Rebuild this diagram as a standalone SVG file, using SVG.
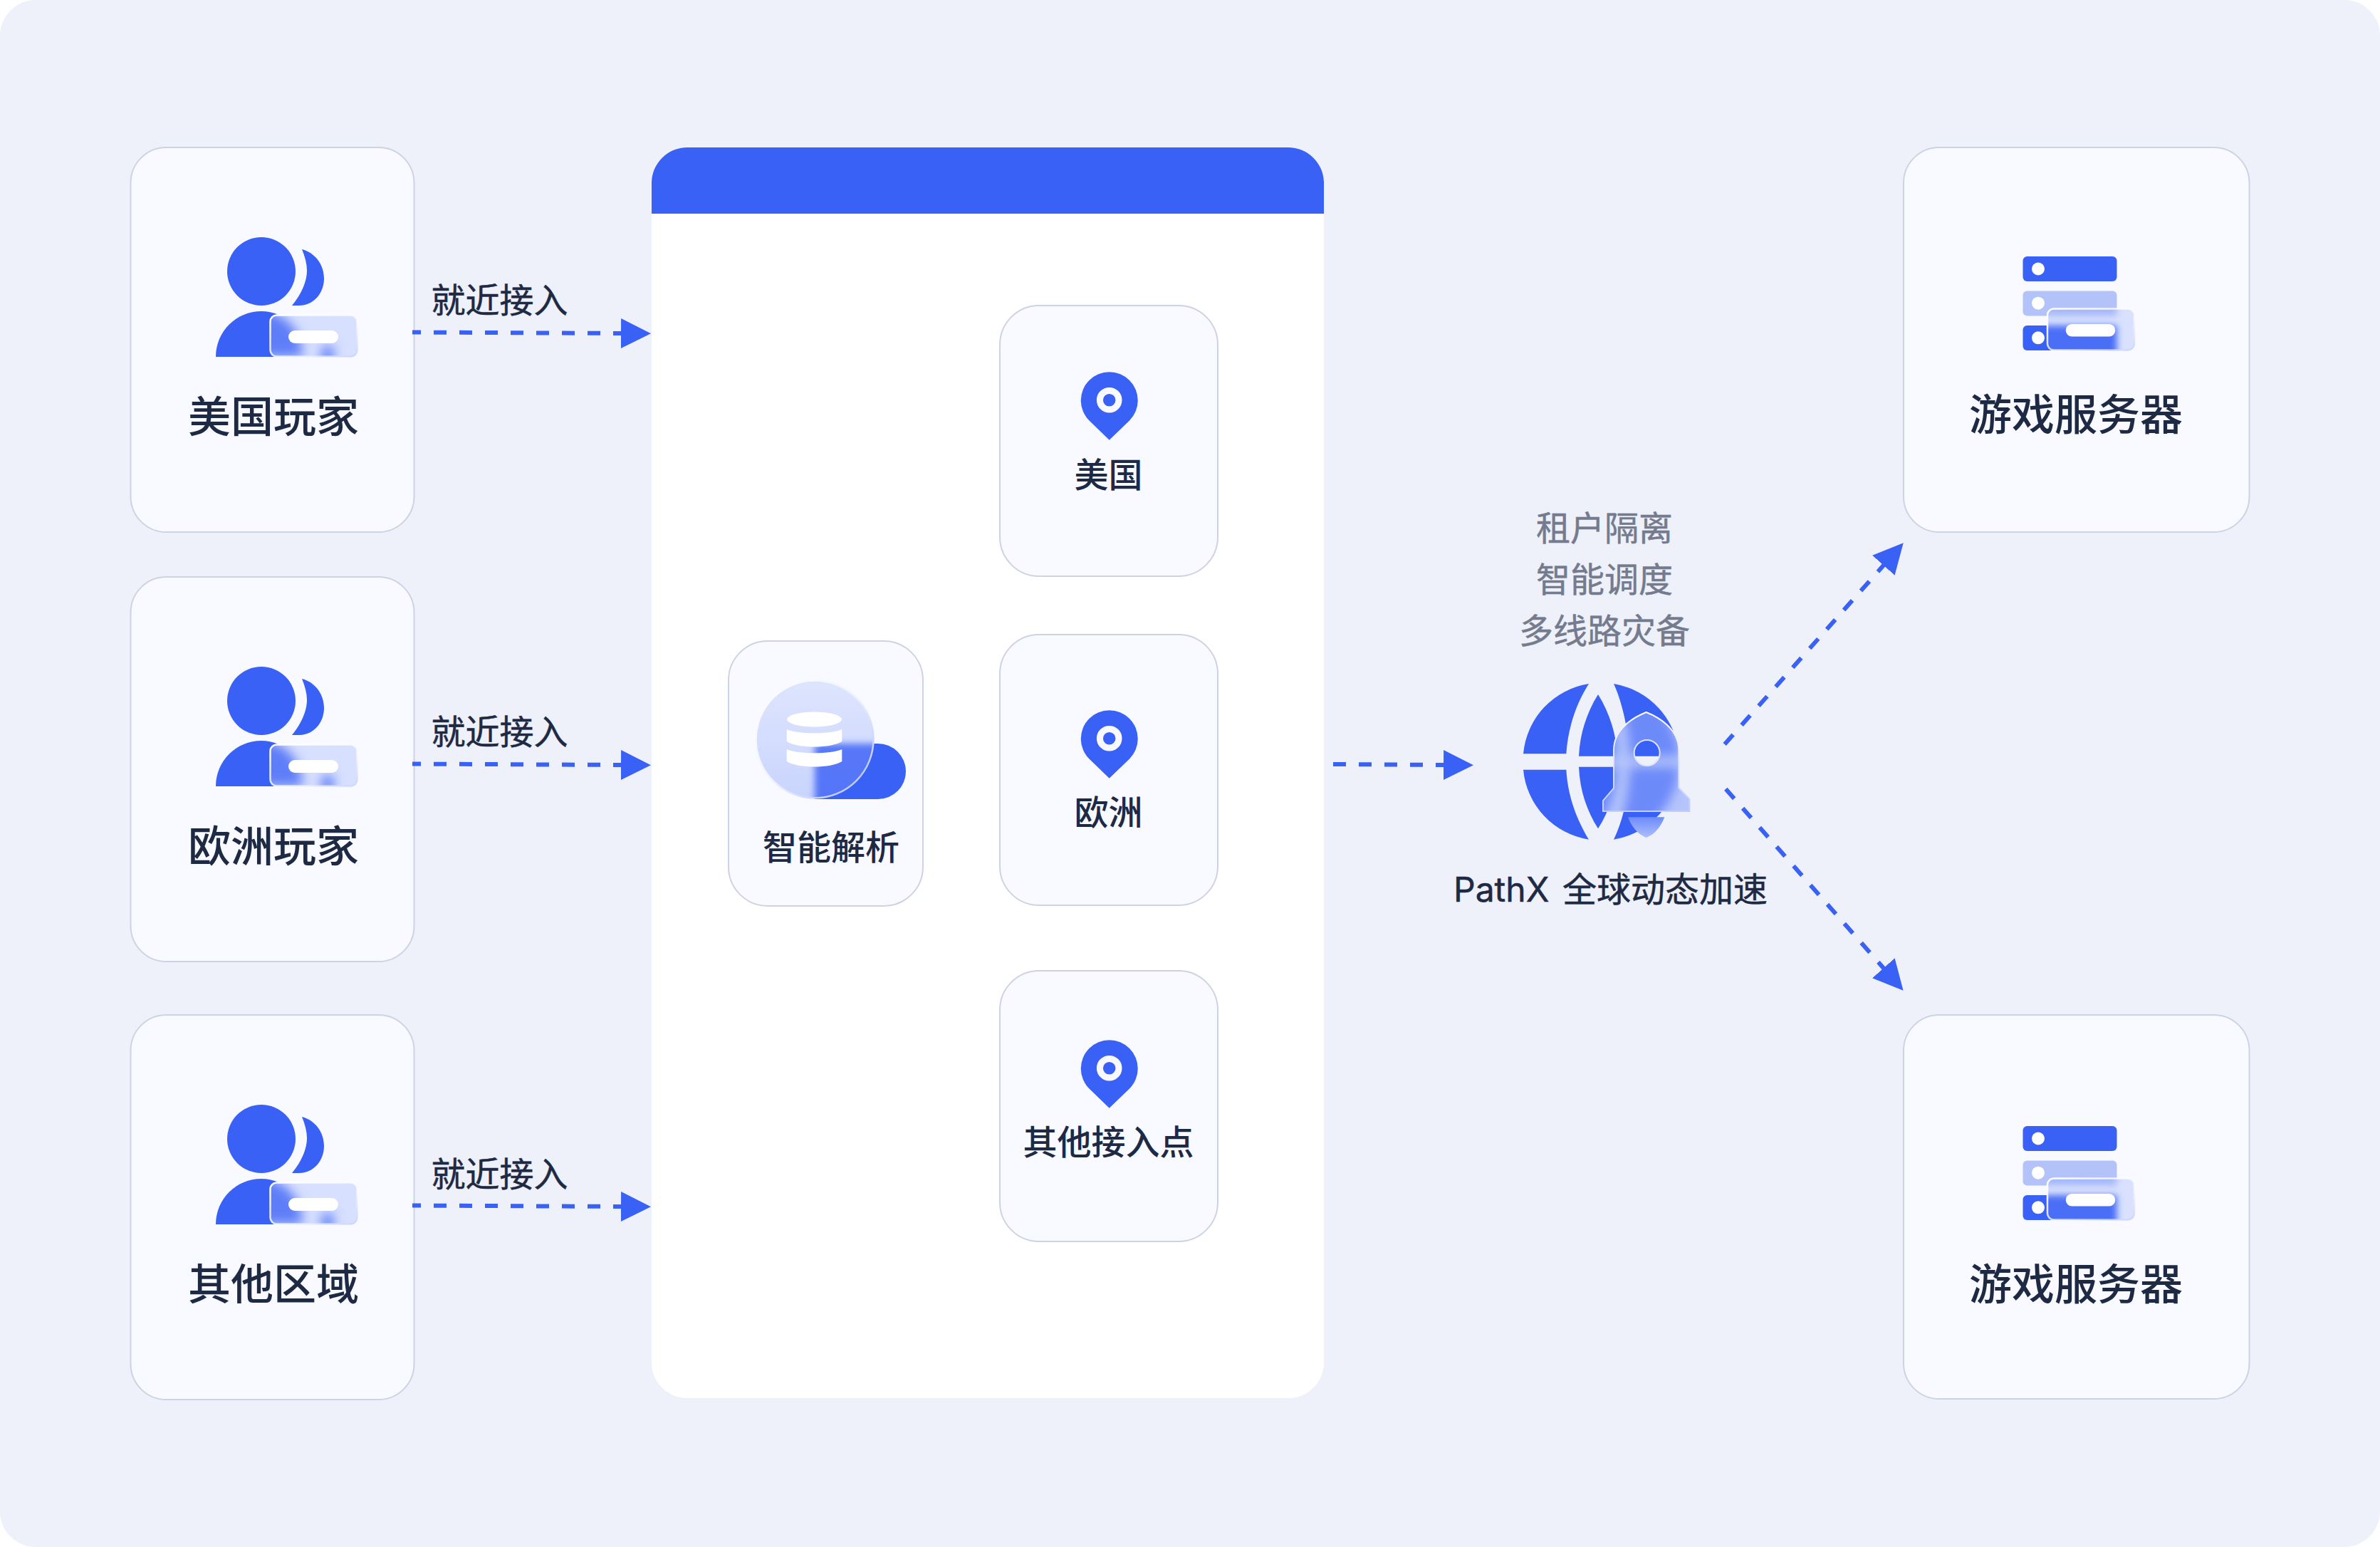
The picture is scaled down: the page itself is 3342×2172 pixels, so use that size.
<svg xmlns="http://www.w3.org/2000/svg" xmlns:xlink="http://www.w3.org/1999/xlink" width="3342" height="2172" viewBox="0 0 3342 2172">
<style>
.card{fill:#F8FAFF;stroke:#CDD3E3;stroke-width:2}
.t{font-family:"Noto Sans CJK SC","Noto Sans",sans-serif;fill:#1E2A44;text-anchor:middle}
.big{font-size:60px;font-weight:500}
.mid{font-size:48px;font-weight:500}
.reg{font-size:48px;font-weight:400;stroke:#1E2A44;stroke-width:.5}
.gray{font-size:48px;font-weight:400;fill:#757B8E;stroke:#757B8E;stroke-width:.5}
.b{fill:#3A61F6}
.dash{fill:none;stroke:#3A61F6;stroke-width:6;stroke-dasharray:18 18;marker-end:url(#ah)}
</style>
<defs>
<marker id="ah" markerUnits="userSpaceOnUse" markerWidth="42" markerHeight="42" viewBox="0 0 42 42" refX="1" refY="21" orient="auto"><path d="M0 0L42 21L0 42Z" fill="#3A61F6"/></marker>
<filter id="bl8" x="-40%" y="-40%" width="180%" height="180%"><feGaussianBlur stdDeviation="8"/></filter>
<filter id="bl5" x="-40%" y="-40%" width="180%" height="180%"><feGaussianBlur stdDeviation="5"/></filter>
<filter id="bl20" x="-30%" y="-30%" width="160%" height="160%"><feGaussianBlur stdDeviation="22"/></filter>
<linearGradient id="edge" x1="0" y1="0" x2="1" y2="1"><stop offset="0" stop-color="#fff"/><stop offset=".6" stop-color="#fff" stop-opacity=".7"/><stop offset="1" stop-color="#C6D2FB" stop-opacity=".8"/></linearGradient>
<linearGradient id="cedge" x1="0" y1="0" x2="1" y2="1"><stop offset="0" stop-color="#fff"/><stop offset=".5" stop-color="#EEF2FF"/><stop offset="1" stop-color="#A9BBFC"/></linearGradient>
<linearGradient id="ctint" x1="0" y1="0" x2="0" y2="1"><stop offset="0" stop-color="#9FB2FB" stop-opacity=".3"/><stop offset="1" stop-color="#7C97FB" stop-opacity=".38"/></linearGradient>
<linearGradient id="flame" x1="0" y1="0" x2="0" y2="1"><stop offset="0" stop-color="#6D8CFB"/><stop offset="1" stop-color="#AEBEFC"/></linearGradient>
<linearGradient id="redge" x1="0" y1="0" x2="0" y2="1"><stop offset="0" stop-color="#fff"/><stop offset=".6" stop-color="#D5DEFD"/><stop offset="1" stop-color="#C0CEFC"/></linearGradient>
<clipPath id="cu"><rect x="379" y="442" width="123" height="59" rx="9"/></clipPath>
<clipPath id="cs"><rect x="2874.5" y="433" width="123" height="59" rx="9"/></clipPath>
<clipPath id="cp"><circle cx="1144" cy="1038" r="83"/></clipPath>
<clipPath id="cr"><path clip-rule="evenodd" d="M845 238C790 262 707 310 707 400L707 560L662 612L662 658L1028 658L1028 606L983 558L983 400C983 310 900 262 845 238ZM848 356a55 55 0 1 0 .01 0Z"/></clipPath>
<g id="user">
<circle class="b" cx="367" cy="381" r="48"/>
<path class="b" d="M424 350C443 355 455 372 455 391C455 412 440 429 420 429L410 429C424 412 431 394 431 380C431 370 428 360 424 350Z"/>
<path class="b" d="M303 501C303 465 332 437 367 437C400 437 431 465 431 501Z"/>
<g clip-path="url(#cu)">
<rect x="379" y="442" width="123" height="59" fill="#F8FAFF"/>
<g filter="url(#bl8)"><path class="b" d="M303 501C303 465 332 437 367 437C400 437 425 465 425 501Z"/><rect class="b" x="452" y="486" width="16" height="24"/></g>
<rect x="379" y="442" width="123" height="59" fill="#9FB2FB" opacity=".36"/>
</g>
<rect x="379.500" y="442.500" width="122" height="58" rx="9" fill="none" stroke="url(#edge)" stroke-width="2.5"/>
<rect x="405" y="464" width="70" height="18" rx="9" fill="#fff"/>
</g>
<g id="server">
<rect class="b" x="2840.500" y="360" width="132" height="35" rx="6"/>
<rect x="2840.500" y="408.500" width="132" height="35" rx="6" fill="#B3C2F8"/>
<rect class="b" x="2840.500" y="457" width="132" height="35" rx="6"/>
<circle cx="2862" cy="377.500" r="9" fill="#fff"/>
<circle cx="2862" cy="425.700" r="9" fill="#fff"/>
<circle cx="2862" cy="474.300" r="9" fill="#fff"/>
<g clip-path="url(#cs)">
<rect x="2874" y="433" width="124" height="59" fill="#F8FAFF"/>
<g filter="url(#bl5)"><rect x="2830" y="408.500" width="142.500" height="35" fill="#B3C2F8"/><rect class="b" x="2830" y="457" width="142.500" height="45"/></g>
<rect x="2874" y="433" width="124" height="59" fill="#7C97FB" opacity=".25"/>
</g>
<rect x="2875" y="433.500" width="122" height="58" rx="9" fill="none" stroke="url(#edge)" stroke-width="2.5"/>
<rect x="2900.700" y="455" width="69.600" height="17.500" rx="8.700" fill="#fff"/>
</g>
<g id="pin">
<path class="b" d="M1557.700 617.700L1529.500 590.500A40 40 0 1 1 1586 590.500Z"/>
<circle cx="1557.700" cy="561.700" r="13.300" fill="none" stroke="#F8FAFF" stroke-width="9"/>
</g>
<g id="lobes">
<path class="b" d="M603 120A328 328 0 0 0 327 415L508 415C515 300 555 195 603 120Z"/>
<path class="b" d="M327 482L508 482C515 600 555 695 603 776A328 328 0 0 1 327 482Z"/>
<path class="b" d="M642 165C595 240 565 330 561 425L723 425C719 330 689 240 642 165Z"/>
<path class="b" d="M561 470L723 470C719 570 689 655 642 730C595 655 565 570 561 470Z"/>
<path class="b" d="M708 120A328 328 0 0 1 983 425L776 425C770 320 745 200 708 120Z"/>
<path class="b" d="M776 470L983 470A328 328 0 0 1 708 776C745 700 770 600 776 470Z"/>
</g>
</defs>
<rect width="3342" height="2172" fill="#fff"/>
<rect id="bg" width="3342" height="2172" rx="50" fill="#EEF1F9"/>

<g id="panel">
<rect x="915" y="207" width="944" height="1756" rx="50" fill="#fff"/>
<path d="M915 300L915 257A50 50 0 0 1 965 207L1809 207A50 50 0 0 1 1859 257L1859 300Z" fill="#3A61F6"/>
</g>

<g id="user-us">
<rect class="card" x="183.500" y="207" width="398" height="540" rx="50"/>
<use href="#user"/>
<text class="t big" x="384" y="607">美国玩家</text>
</g>
<g id="user-eu" transform="translate(0 603)">
<rect class="card" x="183.500" y="207" width="398" height="540" rx="50"/>
<use href="#user"/>
<text class="t big" x="384" y="607">欧洲玩家</text>
</g>
<g id="user-other" transform="translate(0 1218)">
<rect class="card" x="183.500" y="207" width="398" height="540" rx="50"/>
<use href="#user"/>
<text class="t big" x="384" y="607">其他区域</text>
</g>

<g id="connectors">
<path class="dash" stroke-dashoffset="6" d="M579 466.500L873 468"/>
<path class="dash" stroke-dashoffset="6" d="M579 1072.500L873 1074"/>
<path class="dash" stroke-dashoffset="6" d="M579 1692.500L873 1694"/>
<path class="dash" d="M1872 1073L2028 1074"/>
<path class="dash" d="M2421.700 1044.900L2645.500 793"/>
<path class="dash" d="M2423.300 1107.700L2645.500 1360"/>
</g>

<g id="labels">
<text class="t reg" x="701.500" y="439">就近接入</text>
<text class="t reg" x="701.500" y="1045">就近接入</text>
<text class="t reg" x="701.500" y="1666">就近接入</text>
</g>

<g id="parser">
<rect class="card" x="1023" y="900" width="273" height="372" rx="55"/>
<path class="b" d="M1144 1044L1233 1044A39 39 0 0 1 1233 1122L1144 1122Z"/>
<g clip-path="url(#cp)">
<rect x="1061" y="955" width="166" height="166" fill="#F8FAFF"/>
<g filter="url(#bl5)"><rect class="b" x="1144" y="1044" width="129" height="90"/></g>
<rect x="1061" y="955" width="166" height="166" fill="url(#ctint)"/>
</g>
<circle cx="1144" cy="1038" r="82.500" fill="none" stroke="url(#cedge)" stroke-width="2.5"/>
<ellipse cx="1143.500" cy="1010" rx="38.500" ry="10.500" fill="#fff"/>
<path d="M1104.700 1024C1120 1031 1167 1031 1182.300 1024L1182.300 1041C1167 1051 1120 1051 1104.700 1041Z" fill="#fff"/>
<path d="M1104.700 1052C1120 1059 1167 1059 1182.300 1052L1182.300 1069C1167 1079 1120 1079 1104.700 1069Z" fill="#fff"/>
<text class="t mid" x="1167" y="1207">智能解析</text>
</g>

<g id="pop-us">
<rect class="card" x="1404" y="429" width="306" height="380" rx="55"/>
<use href="#pin"/>
<text class="t mid" x="1556.500" y="684">美国</text>
</g>
<g id="pop-eu">
<rect class="card" x="1404" y="891" width="306" height="380" rx="55"/>
<use href="#pin" y="475"/>
<text class="t mid" x="1556.500" y="1158">欧洲</text>
</g>
<g id="pop-other">
<rect class="card" x="1404" y="1363" width="306" height="380" rx="55"/>
<use href="#pin" y="938"/>
<text class="t mid" x="1556.500" y="1621">其他接入点</text>
</g>

<g id="pathx">
<text class="t gray" x="2253" y="759">租户隔离</text>
<text class="t gray" x="2253" y="831">智能调度</text>
<text class="t gray" x="2253" y="903">多线路灾备</text>
<g transform="translate(2030 920) scale(.33333)">
<use href="#lobes"/>
<g clip-path="url(#cr)">
<rect x="640" y="220" width="410" height="460" fill="#EEF1F9"/>
<g filter="url(#bl20)"><use href="#lobes"/></g>
<rect x="640" y="220" width="410" height="460" fill="#8FA6FB" opacity=".6"/>
</g>
<path fill="none" stroke="url(#redge)" stroke-width="6" d="M845 240C790 262 708 310 708 400L708 560L663 612L663 657L1027 657L1027 606L982 558L982 400C982 310 900 262 845 240Z"/>
<circle cx="848" cy="411" r="54" fill="none" stroke="#DDE4FD" stroke-width="6"/>
<path fill="url(#flame)" d="M768 682L922 682C905 725 880 755 845 768C810 755 785 725 768 682Z"/>
</g>
<text class="t reg" y="1266" style="text-anchor:start"><tspan x="2041" font-family="Inter,'Noto Sans',sans-serif">PathX</tspan><tspan x="2194">全球动态加速</tspan></text>
</g>

<g id="server-1">
<rect class="card" x="2673" y="207" width="485.500" height="540" rx="50"/>
<use href="#server"/>
<text class="t big" x="2915" y="604">游戏服务器</text>
</g>
<g id="server-2" transform="translate(0 1221)">
<rect class="card" x="2673" y="204" width="485.500" height="539" rx="50"/>
<use href="#server"/>
<text class="t big" x="2915" y="604">游戏服务器</text>
</g>
</svg>
